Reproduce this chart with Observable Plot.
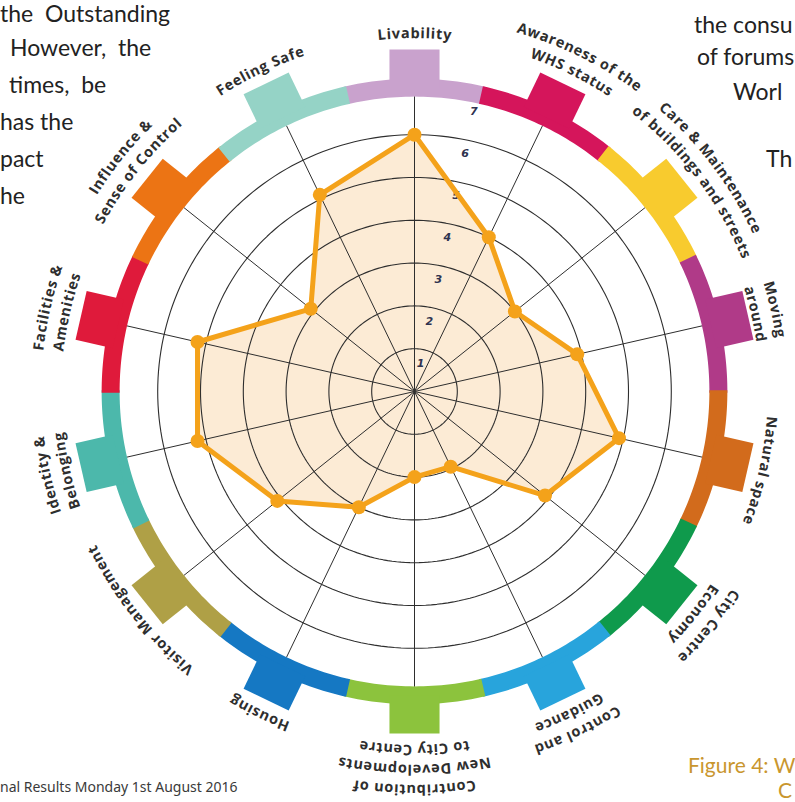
<!DOCTYPE html>
<html><head><meta charset="utf-8">
<script src="https://cdn.jsdelivr.net/npm/d3@7"></script>
<script src="https://cdn.jsdelivr.net/npm/@observablehq/plot@0.6"></script>
<style>
html,body{margin:0;padding:0;background:#fff;}
#wrap{position:relative;width:795px;height:802px;overflow:hidden;background:#fff;}
#chart{position:absolute;left:0;top:0;}
.doc{position:absolute;font-family:Lato,"Open Sans",sans-serif;font-size:23px;color:#222;white-space:pre;line-height:1.15;}
.foot{position:absolute;font-family:"Noto Sans",sans-serif;font-size:14px;color:#3a3a3a;white-space:pre;line-height:1;}
.fig{position:absolute;font-family:Lato,sans-serif;font-size:21px;color:#c9962e;white-space:pre;line-height:1.1;}
</style></head><body>
<div id="wrap">
<div id="chart"></div>
<div class="doc" style="left:0;top:0px">the  Outstanding</div>
<div class="doc" style="left:10px;top:34px">However,  the</div>
<div class="doc" style="left:9px;top:71px">times,  be</div>
<div class="doc" style="left:0;top:108px">has the</div>
<div class="doc" style="left:0;top:145px">pact</div>
<div class="doc" style="left:0;top:182px">he</div>
<div class="doc" style="left:694px;top:11px">the consu</div>
<div class="doc" style="left:697px;top:43px">of forums</div>
<div class="doc" style="left:733px;top:78px">Worl</div>
<div class="doc" style="left:766px;top:145px">Th</div>
<div class="foot" style="left:0;top:780px">nal Results Monday 1st August 2016</div>
<div class="fig" style="left:688px;top:753px">Figure 4: W</div>
<div class="fig" style="left:778px;top:778px">C</div>
</div>
<script>
// ---- data ----
const categories = [
  "Livability",
  "Awareness of the\nWHS status",
  "Care & Maintenance\nof buildings and streets",
  "Moving\naround",
  "Natural space",
  "City Centre\nEconomy",
  "Control and\nGuidance",
  "Contribution of\nNew Developments\nto City Centre",
  "Housing",
  "Visitor Management",
  "Identity &\nBelonging",
  "Facilities &\nAmenities",
  "Influence &\nSense of Control",
  "Feeling Safe"
];
const scores = [6.0, 4.0, 3.0, 3.9, 4.9, 3.9, 1.95, 2.0, 3.0, 4.1, 5.2, 5.2, 3.1, 5.1];
const bandColors = ["#c9a2cd","#d5155b","#f8cb2e","#b03a88","#d26b1c","#0f9a4c","#28a4dc","#8cc33d","#1578c3","#afa046","#4cb8ab","#df1a3b","#ec7414","#95d3c6"];
const ringTicks = [1, 2, 3, 4, 5, 6, 7];

// ---- geometry helpers (layout) ----
const W = 795, H = 802, cx = 414, cy = 391, unit = 42.8;
const n = categories.length, step = 2 * Math.PI / n;
const ang = i => i * step;
const P = (v, a) => ({x: v * Math.sin(a), y: v * Math.cos(a)});

// data polygon
const pts = scores.map((v, i) => ({cat: categories[i], v, ...P(v, ang(i))}));

// rings
const ringRows = [];
ringTicks.slice(0, 6).forEach(k => {
  for (let t = 0; t < 240; t++) ringRows.push({k, ...P(k, t / 240 * 2 * Math.PI)});
});

// spokes
const spokeEnd = 6.9;
const spokes = categories.map((c, i) => ({c, ...P(spokeEnd, ang(i))}));

// band + tabs
const rIn = 6.89, rOut = 7.31, tabIn = 7.1, tabOut = 7.99, tabHW = 0.585;
const bandRows = [], tabRows = [];
categories.forEach((c, i) => {
  const a0 = ang(i) - step / 2 - 0.004, a1 = ang(i) + step / 2 + 0.004;
  for (let t = 0; t <= 30; t++) bandRows.push({id: i, color: bandColors[i], ...P(rOut, a0 + (a1 - a0) * t / 30)});
  for (let t = 30; t >= 0; t--) bandRows.push({id: i, color: bandColors[i], ...P(rIn, a0 + (a1 - a0) * t / 30)});
  const th = ang(i), s = Math.sin(th), co = Math.cos(th);
  [[-tabHW, tabIn], [-tabHW, tabOut], [tabHW, tabOut], [tabHW, tabIn]].forEach(([u, v]) =>
    tabRows.push({id: i, color: bandColors[i], x: v * s + u * co, y: v * co - u * s}));
});

// curved category labels (per-character along arcs)
const LFS = 14.5, tracking = 0.8;
const labelShiftDeg = {2: 1.5, 1: 0.5};   // small angular nudges of label centres
const labelBase = {3: 350};              // inner-line radius overrides (px)
const ctx = document.createElement("canvas").getContext("2d");
ctx.font = `700 ${LFS}px "Open Sans"`;
const labelChars = [];
categories.forEach((lab, i) => {
  const th = ang(i) + (labelShiftDeg[i] || 0) * Math.PI / 180;
  const lines = lab.split("\n");
  const base = labelBase[i] || 358;
  lines.forEach((line, j) => {
    const r = base + (lines.length - 1 - j) * 20;
    const chars = [...line];
    const widths = chars.map(ch => ctx.measureText(ch).width);
    const total = d3.sum(widths) + tracking * (chars.length - 1);
    let s = -total / 2;
    chars.forEach((ch, k) => {
      const c = s + widths[k] / 2;
      const a = th + c / r;
      if (ch !== " ") labelChars.push({ch, rot: a * 180 / Math.PI, ...P(r / unit, a)});
      s += widths[k] + tracking;
    });
  });
});

const tickAng = 12 * Math.PI / 180;

const chart = Plot.plot({
  width: W, height: H,
  marginTop: 0, marginRight: 0, marginBottom: 0, marginLeft: 0,
  x: {domain: [-cx / unit, (W - cx) / unit], range: [0, W], axis: null},
  y: {domain: [-(H - cy) / unit, cy / unit], range: [H, 0], axis: null},
  style: {background: "white"},
  marks: [
    Plot.line(pts, {x: "x", y: "y", curve: "linear-closed", fill: "#fcebd5", stroke: "none"}),
    Plot.line(ringRows, {x: "x", y: "y", z: "k", curve: "linear-closed", stroke: "#2e2e2e", strokeWidth: 1.1}),
    Plot.link(spokes, {x1: 0, y1: 0, x2: "x", y2: "y", stroke: "#2e2e2e", strokeWidth: 1}),
    Plot.text(ringTicks, {
      x: d => (d - 0.32) * Math.sin(tickAng), y: d => (d - 0.32) * Math.cos(tickAng),
      text: d => String(d), fontSize: 11, fontStyle: "italic", fontWeight: 700,
      fontFamily: "DejaVu Sans", fill: "#2f3350"
    }),
    Plot.line(pts, {x: "x", y: "y", curve: "linear-closed", stroke: "#f4a21a", strokeWidth: 5, strokeLinejoin: "round"}),
    Plot.dot(pts, {x: "x", y: "y", r: 7, fill: "#f4a21a", stroke: "none"}),
    Plot.line(bandRows, {x: "x", y: "y", z: "id", fill: "color", stroke: "none", curve: "linear-closed"}),
    Plot.line(tabRows, {x: "x", y: "y", z: "id", fill: "color", stroke: "none", curve: "linear-closed"}),
    Plot.text(labelChars, {
      x: "x", y: "y", text: "ch", rotate: "rot", fontSize: LFS, fontWeight: 700,
      fontFamily: "Open Sans", fill: "#2e2e2e", textAnchor: "middle", lineAnchor: "middle"
    })
  ]
});
document.getElementById("chart").appendChild(chart);
</script>
</body></html>
